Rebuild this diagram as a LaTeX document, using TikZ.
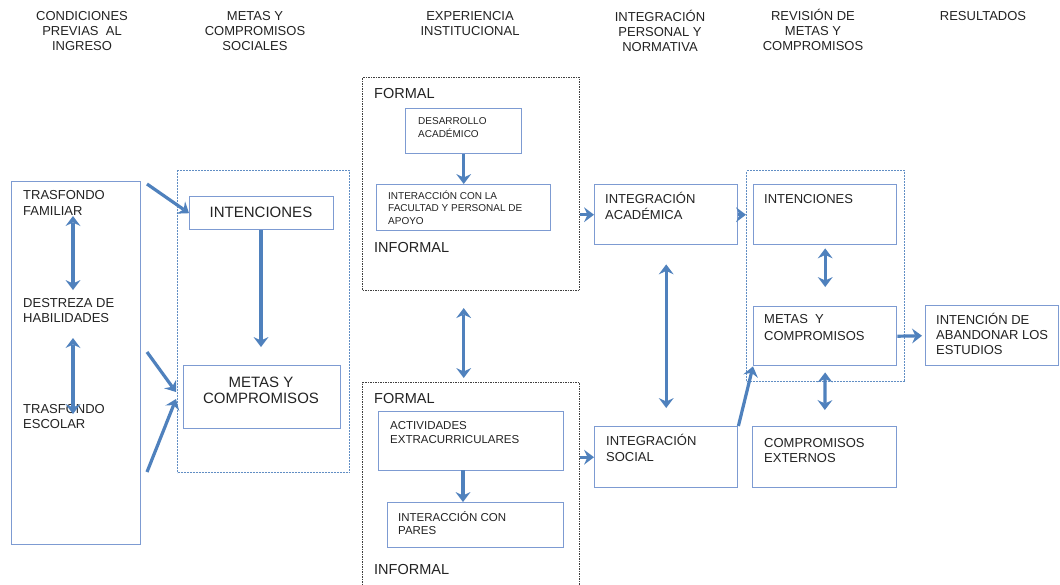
\documentclass[tikz,border=0pt]{standalone}
\usepackage{fontspec}
\setmainfont{Liberation Sans}
\usetikzlibrary{arrows.meta,calc}
\definecolor{boxblue}{RGB}{125,155,210}
\definecolor{arrblue}{RGB}{79,129,189}
\definecolor{txt}{RGB}{35,35,35}
\begin{document}
\begin{tikzpicture}[x=1pt,y=-1pt,
  box/.style={draw=boxblue, line width=1.4pt, anchor=north west, inner sep=0},
  blkdot/.style={draw=black!75, line width=1.1pt, dash pattern=on 1.5pt off 1pt, anchor=north west, inner sep=0},
  bludot/.style={draw=arrblue!90, line width=1.1pt, dash pattern=on 2pt off 1pt, anchor=north west, inner sep=0},
  hdr/.style={anchor=base, inner sep=0, align=center, text=txt, font=\fontsize{13}{15}\selectfont},
  lbl/.style={anchor=base west, inner sep=0, align=left, text=txt},
  tip/.tip={Stealth[length=10pt,width=15pt,inset=3.5pt,line width=0pt]},
  arr/.style={draw=arrblue, line width=3.2pt, -tip},
  darr/.style={draw=arrblue, line width=3.2pt, tip-tip}
]
\useasboundingbox (0,0) rectangle (1060,584);
\fill[white] (0,0) rectangle (1060,584);

% headers (anchor = baseline of last line)
\node[hdr] (h1) at (82,50) {CONDICIONES\\PREVIAS\ \ AL\\INGRESO};
\node[hdr] (h2) at (255,50) {METAS Y\\COMPROMISOS\\SOCIALES};
\node[hdr] (h3) at (470,35.5) {EXPERIENCIA\\INSTITUCIONAL};
\node[hdr] (h4) at (660,51) {INTEGRACIÓN\\PERSONAL Y\\NORMATIVA};
\node[hdr] (h5) at (813,50.5) {REVISIÓN DE\\METAS Y\\COMPROMISOS};
\node[hdr] (h6) at (983,20) {RESULTADOS};

% boxes
\node[box, minimum width=129pt, minimum height=363pt] (cond) at (11,181) {};
\node[bludot, minimum width=172pt, minimum height=302pt] (dash2) at (177,170) {};
\node[box, minimum width=144pt, minimum height=33pt] (int1) at (189,196) {};
\node[box, minimum width=157pt, minimum height=63pt] (metas1) at (183,365) {};
\node[blkdot, minimum width=217pt, minimum height=213pt] (exp1) at (362,77) {};
\node[box, minimum width=116pt, minimum height=45pt] (desa) at (405,108) {};
\node[box, minimum width=174pt, minimum height=46pt] (inter) at (376,184) {};
\node[blkdot, minimum width=217pt, minimum height=220pt] (exp2) at (362,382) {};
\node[box, minimum width=185pt, minimum height=59pt] (activ) at (378,411) {};
\node[box, minimum width=176pt, minimum height=45pt] (pares) at (387,502) {};
\node[box, minimum width=143pt, minimum height=60pt] (intac) at (594,184) {};
\node[box, minimum width=143pt, minimum height=61pt] (intsoc) at (594,426) {};
\node[bludot, minimum width=158pt, minimum height=211pt] (dash5) at (746,170) {};
\node[box, minimum width=143pt, minimum height=60pt] (int5) at (753,184) {};
\node[box, minimum width=143pt, minimum height=59pt] (metas5) at (753,306) {};
\node[box, minimum width=144pt, minimum height=61pt] (compext) at (752,426) {};
\node[box, minimum width=133pt, minimum height=60pt] (aband) at (925,305) {};

% texts (anchor = baseline of last line)
\node[lbl, font=\fontsize{13}{15.5}\selectfont] (t1) at (23,215) {TRASFONDO\\FAMILIAR};
\node[lbl, font=\fontsize{13}{15.5}\selectfont] (t2) at (23,322.5) {DESTREZA DE\\HABILIDADES};
\node[lbl, font=\fontsize{13}{15.5}\selectfont] (t3) at (23,428.5) {TRASFONDO\\ESCOLAR};
\node[anchor=base, inner sep=0, text=txt, font=\fontsize{15}{16}\selectfont] (t4) at (261,217) {INTENCIONES};
\node[anchor=base, inner sep=0, align=center, text=txt, font=\fontsize{15}{16.5}\selectfont] (t5) at (261,403.5) {METAS Y\\COMPROMISOS};
\node[lbl, font=\fontsize{14.5}{16}\selectfont] (t6) at (374,98) {FORMAL};
\node[lbl, font=\fontsize{10}{13}\selectfont] (t7) at (418,137) {DESARROLLO\\ACADÉMICO};
\node[lbl, font=\fontsize{10}{12.5}\selectfont] (t8) at (388,224) {INTERACCIÓN CON LA\\FACULTAD Y PERSONAL DE\\APOYO};
\node[lbl, font=\fontsize{14.5}{16}\selectfont] (t9) at (374,252) {INFORMAL};
\node[lbl, font=\fontsize{14.5}{16}\selectfont] (t10) at (374,403) {FORMAL};
\node[lbl, font=\fontsize{11.5}{14}\selectfont] (t11) at (390,443) {ACTIVIDADES\\EXTRACURRICULARES};
\node[lbl, font=\fontsize{11.5}{13.5}\selectfont] (t12) at (398,534.5) {INTERACCIÓN CON\\PARES};
\node[lbl, font=\fontsize{14.5}{16}\selectfont] (t13) at (374,574) {INFORMAL};
\node[lbl, font=\fontsize{13}{16}\selectfont] (t14) at (605,219) {INTEGRACIÓN\\ACADÉMICA};
\node[lbl, font=\fontsize{13}{16}\selectfont] (t15) at (606,461) {INTEGRACIÓN\\SOCIAL};
\node[lbl, font=\fontsize{13}{16}\selectfont] (t16) at (764,203) {INTENCIONES};
\node[lbl, font=\fontsize{13}{17}\selectfont] (t17) at (764,340) {METAS\ \ Y\\COMPROMISOS};
\node[lbl, font=\fontsize{13}{15}\selectfont] (t18) at (764,462) {COMPROMISOS\\EXTERNOS};
\node[lbl, font=\fontsize{13}{15}\selectfont] (t19) at (936,354) {INTENCIÓN DE\\ABANDONAR LOS\\ESTUDIOS};

% connector coordinates
\coordinate (a1s) at (147,184);
\coordinate (a2s) at (147,352);
\coordinate (a2e) at (176,392);
\coordinate (a3s) at (147,472);
\coordinate (a3e) at (176,399);
\coordinate (d1a) at (73,216);
\coordinate (d1b) at (73,290);
\coordinate (d2a) at (73,338);
\coordinate (d2b) at (73,414);
\coordinate (im) at (261,347);
\coordinate (ap) at (463,502);
\coordinate (as) at (463,470);

% connectors
\draw[arr] (a1s) -- (int1.west);
\draw[arr] (a2s) -- (a2e);
\draw[arr] (a3s) -- (a3e);
\draw[darr] (d1a) -- (d1b);
\draw[darr] (d2a) -- (d2b);
\draw[arr] (int1.south -| im) -- (im);
\draw[arr] (desa.south) -- (inter.north -| desa.south);
\draw[darr, shorten <=17pt, shorten >=4pt] (exp1.south -| desa.south) -- (exp2.north -| desa.south);
\draw[arr] (as) -- (ap);
\draw[arr] (exp1.east |- intac.west) -- (intac.west);
\draw[arr] (exp2.east |- intsoc.west) -- (intsoc.west);
\draw[darr, shorten <=19pt, shorten >=18pt] (intac.south) -- (intsoc.north);
\draw[arr] (intac.east) -- (dash5.west |- intac.east);
\draw[arr] (intsoc.north east) -- (metas5.south west);
\draw[darr, shorten <=3pt, shorten >=19pt] (int5.south) -- (metas5.north);
\draw[darr, shorten <=6pt, shorten >=16pt] (metas5.south) -- (compext.north);
\draw[arr, shorten >=3pt] (metas5.east) -- (aband.west);
\end{tikzpicture}
\end{document}
